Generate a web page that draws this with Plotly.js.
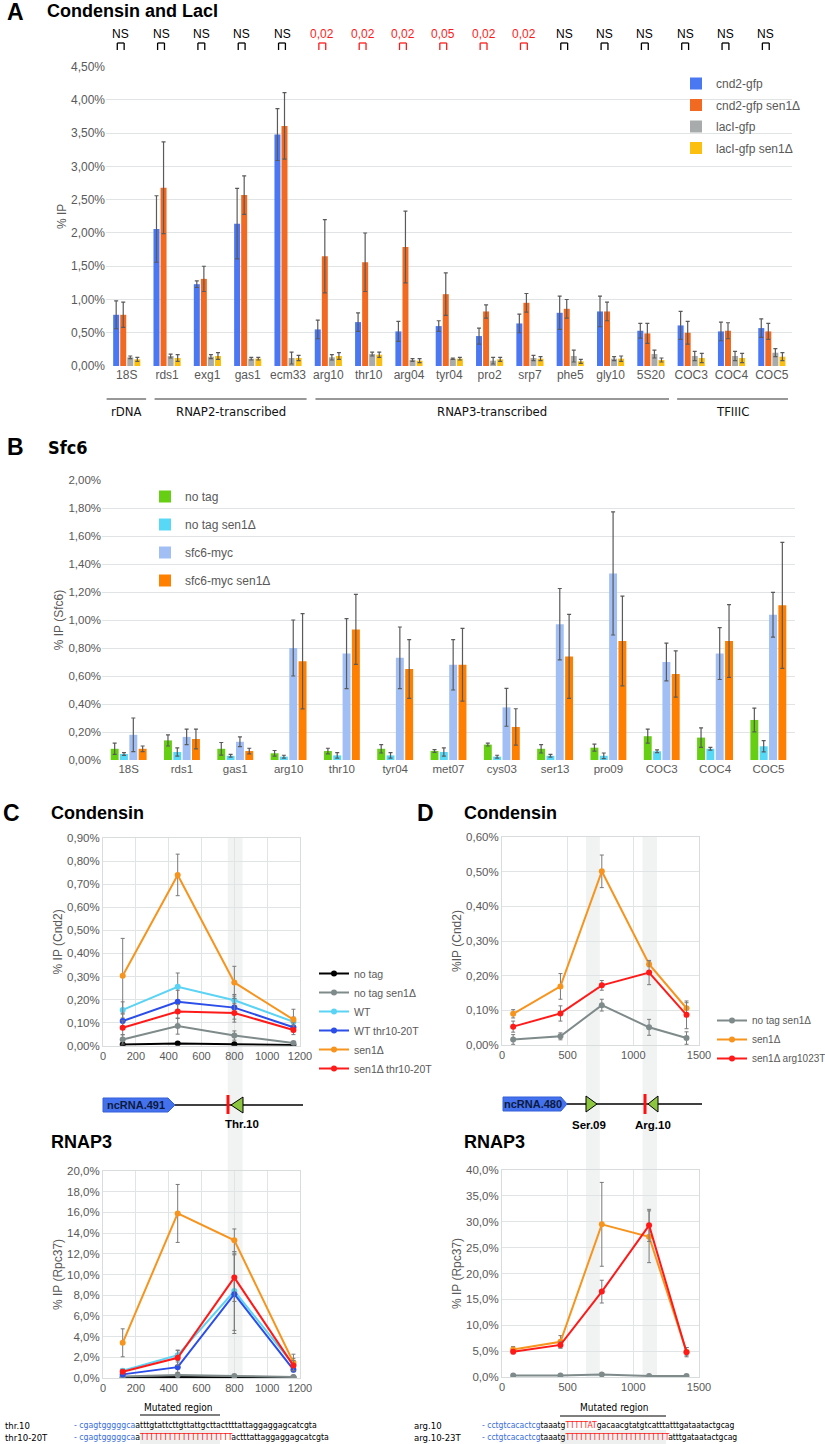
<!DOCTYPE html>
<html><head><meta charset="utf-8">
<script src="https://cdn.plot.ly/plotly-3.0.1.min.js"></script>
<style>html,body{margin:0;padding:0;background:#fff}#chart{width:825px;height:1444px}</style>
</head><body><div id="chart"></div>
<script>
// ---------- Panel A data ----------
const catsA = ['18S','rds1','exg1','gas1','ecm33','arg10','thr10','arg04','tyr04','pro2','srp7','phe5','gly10','5S20','COC3','COC4','COC5'];
const cnd2 = [0.77,2.06,1.23,2.14,3.48,0.55,0.66,0.52,0.60,0.45,0.64,0.80,0.82,0.53,0.61,0.52,0.57];
const cnd2Err = [0.21,0.50,0.05,0.53,0.39,0.14,0.14,0.15,0.08,0.12,0.14,0.25,0.23,0.11,0.21,0.14,0.14];
const cnd2Sen = [0.77,2.68,1.31,2.57,3.61,1.65,1.56,1.79,1.08,0.82,0.95,0.86,0.82,0.49,0.50,0.53,0.52];
const cnd2SenErr = [0.19,0.69,0.19,0.29,0.50,0.55,0.44,0.54,0.32,0.10,0.14,0.14,0.14,0.15,0.17,0.12,0.12];
const lacI = [0.13,0.15,0.14,0.11,0.12,0.13,0.18,0.09,0.11,0.08,0.12,0.15,0.11,0.18,0.15,0.15,0.20];
const lacIErr = [0.02,0.03,0.03,0.02,0.09,0.04,0.03,0.02,0.01,0.05,0.04,0.09,0.03,0.06,0.07,0.07,0.06];
const lacISen = [0.10,0.12,0.15,0.11,0.12,0.15,0.17,0.08,0.11,0.10,0.11,0.07,0.11,0.09,0.12,0.12,0.14];
const lacISenErr = [0.03,0.05,0.05,0.02,0.04,0.05,0.04,0.03,0.02,0.03,0.03,0.03,0.04,0.03,0.07,0.07,0.06];
const sigA = ['NS','NS','NS','NS','NS','0,02','0,02','0,02','0,05','0,02','0,02','NS','NS','NS','NS','NS','NS'];
const groupsA = ['rDNA','RNAP2-transcribed','RNAP3-transcribed','TFIIIC'];
const groupSpanA = [[-0.5,0.48],[0.69,4.46],[4.68,13.45],[13.65,16.4]];

// ---------- Panel B data ----------
const catsB = ['18S','rds1','gas1','arg10','thr10','tyr04','met07','cys03','ser13','pro09','COC3','COC4','COC5'];
const noTag = [0.08,0.14,0.08,0.048,0.064,0.08,0.064,0.11,0.08,0.088,0.17,0.16,0.286];
const noTagErr = [0.04,0.04,0.045,0.02,0.02,0.03,0.01,0.01,0.03,0.025,0.05,0.07,0.085];
const noTagSen = [0.043,0.057,0.03,0.024,0.033,0.033,0.057,0.024,0.03,0.03,0.062,0.08,0.098];
const noTagSenErr = [0.01,0.03,0.01,0.01,0.02,0.02,0.03,0.01,0.01,0.02,0.01,0.01,0.04];
const sfc6 = [0.18,0.165,0.13,0.80,0.76,0.73,0.68,0.376,0.97,1.333,0.70,0.76,1.038];
const sfc6Err = [0.12,0.055,0.035,0.20,0.25,0.22,0.18,0.135,0.255,0.44,0.135,0.185,0.16];
const sfc6Sen = [0.08,0.15,0.064,0.705,0.933,0.65,0.68,0.236,0.74,0.85,0.614,0.85,1.105];
const sfc6SenErr = [0.02,0.07,0.02,0.34,0.25,0.21,0.26,0.13,0.30,0.32,0.165,0.26,0.45];

// ---------- Panel C data (thr10 locus) ----------
const posC = [120,455,800,1160];
const seriesC = ['no tag','no tag sen1Δ','WT','WT thr10-20T','sen1Δ','sen1Δ thr10-20T'];
const cndC_noTag = [0.005,0.010,0.006,0.003];
const cndC_noTagErr = [0.002,0.003,0.002,0.002];
const cndC_noTagSen = [0.027,0.085,0.044,0.012];
const cndC_noTagSenErr = [0.02,0.035,0.02,0.006];
const cndC_WT = [0.155,0.255,0.197,0.104];
const cndC_WTErr = [0.035,0.06,0.025,0.02];
const cndC_WTmut = [0.107,0.19,0.165,0.08];
const cndC_WTmutErr = [0.03,0.05,0.05,0.02];
const cndC_sen = [0.303,0.74,0.274,0.113];
const cndC_senErr = [0.162,0.09,0.07,0.045];
const cndC_senMut = [0.078,0.148,0.142,0.068];
const cndC_senMutErr = [0.03,0.03,0.04,0.02];
const polC_noTag = [0.05,0.1,0.05,0.05];
const polC_noTagErr = [0.05,0.05,0.05,0.05];
const polC_noTagSen = [0.15,0.3,0.2,0.1];
const polC_noTagSenErr = [0.1,0.2,0.1,0.1];
const polC_WT = [0.7,2.2,8.4,1.3];
const polC_WTErr = [0.2,0.5,3.8,0.6];
const polC_WTmut = [0.35,1.05,8.1,0.8];
const polC_WTmutErr = [0.1,0.5,3.8,0.2];
const polC_sen = [3.4,15.9,13.3,1.5];
const polC_senErr = [1.35,2.8,1.1,0.8];
const polC_senMut = [0.6,1.95,9.7,1.2];
const polC_senMutErr = [0.2,0.7,2.3,0.5];

// ---------- Panel D data (arg10 locus) ----------
const posD = [85,445,760,1120,1405];
const seriesD = ['no tag sen1Δ','sen1Δ','sen1Δ arg1023T'];
const cndD_noTagSen = [0.016,0.025,0.115,0.051,0.02];
const cndD_noTagSenErr = [0.014,0.01,0.017,0.023,0.018];
const cndD_sen = [0.09,0.169,0.501,0.233,0.106];
const cndD_senErr = [0.012,0.037,0.047,0.007,0.016];
const cndD_senMut = [0.053,0.091,0.172,0.209,0.087];
const cndD_senMutErr = [0.016,0.022,0.014,0.035,0.04];
const polD_noTagSen = [0.3,0.3,0.5,0.2,0.2];
const polD_noTagSenErr = [0.1,0.1,0.1,0.1,0.1];
const polD_sen = [5.3,6.8,29.5,27.1,4.9];
const polD_senErr = [0.6,1.2,8.1,5.0,0.8];
const polD_senMut = [4.9,6.2,16.5,29.3,4.8];
const polD_senMutErr = [0.4,0.6,2.2,3.1,0.9];

// ---------- helpers / styles ----------
const W = 825, H = 1444;
const px = x => x / W;
const py = y => 1 - y / H;
const F = 'Liberation Sans, Arial, sans-serif';
const FN = 'Liberation Sans Narrow, DejaVu Sans Condensed, Liberation Sans, sans-serif';
const TICK = '#595959';
const GRID = '#e1e4e4';
const ERR = '#5a5a5a';

function barTrace(x, y, err, name, color, xa, ya, lg) {
  return {type:'bar', x:x, y:y, name:name, marker:{color:color},
    error_y:{type:'data', array:err, color:ERR, thickness:1.2, width:2},
    xaxis:xa, yaxis:ya, legend:lg, legendgroup:name+xa};
}
function lineTrace(x, y, err, name, color, xa, ya, lg, show) {
  return {type:'scatter', mode:'lines+markers', x:x, y:y, name:name,
    line:{color:color, width:2}, marker:{color:color, size:6},
    error_y:{type:'data', array:err, color:'#7a7a7a', thickness:1, width:2},
    xaxis:xa, yaxis:ya, legend:lg, legendgroup:name+lg, showlegend:show};
}

const colA = ['#4a77f2','#f26a21','#a8abab','#fbbf10'];
const colB = ['#66cf14','#58d8f7','#a1bff4','#ff8000'];
const colC = ['#000000','#7f8a8a','#5ad3f5','#2b4de8','#f7941d','#ff1a1a'];
const colD = ['#7f8a8a','#f7941d','#ff1a1a'];

const data = [
  barTrace(catsA, cnd2, cnd2Err, 'cnd2-gfp', colA[0], 'x', 'y', 'legend'),
  barTrace(catsA, cnd2Sen, cnd2SenErr, 'cnd2-gfp sen1Δ', colA[1], 'x', 'y', 'legend'),
  barTrace(catsA, lacI, lacIErr, 'lacI-gfp', colA[2], 'x', 'y', 'legend'),
  barTrace(catsA, lacISen, lacISenErr, 'lacI-gfp sen1Δ', colA[3], 'x', 'y', 'legend'),
  barTrace(catsB, noTag, noTagErr, 'no tag', colB[0], 'x2', 'y2', 'legend2'),
  barTrace(catsB, noTagSen, noTagSenErr, 'no tag sen1Δ', colB[1], 'x2', 'y2', 'legend2'),
  barTrace(catsB, sfc6, sfc6Err, 'sfc6-myc', colB[2], 'x2', 'y2', 'legend2'),
  barTrace(catsB, sfc6Sen, sfc6SenErr, 'sfc6-myc sen1Δ', colB[3], 'x2', 'y2', 'legend2')
];
const cndC = [[cndC_noTag,cndC_noTagErr],[cndC_noTagSen,cndC_noTagSenErr],[cndC_WT,cndC_WTErr],[cndC_WTmut,cndC_WTmutErr],[cndC_sen,cndC_senErr],[cndC_senMut,cndC_senMutErr]];
const polC = [[polC_noTag,polC_noTagErr],[polC_noTagSen,polC_noTagSenErr],[polC_WT,polC_WTErr],[polC_WTmut,polC_WTmutErr],[polC_sen,polC_senErr],[polC_senMut,polC_senMutErr]];
seriesC.forEach((s,i)=>{ data.push(lineTrace(posC, cndC[i][0], cndC[i][1], s, colC[i], 'x3', 'y3', 'legend3', true)); });
seriesC.forEach((s,i)=>{ data.push(lineTrace(posC, polC[i][0], polC[i][1], s, colC[i], 'x4', 'y4', 'legend3', false)); });
const cndD = [[cndD_noTagSen,cndD_noTagSenErr],[cndD_sen,cndD_senErr],[cndD_senMut,cndD_senMutErr]];
const polD = [[polD_noTagSen,polD_noTagSenErr],[polD_sen,polD_senErr],[polD_senMut,polD_senMutErr]];
seriesD.forEach((s,i)=>{ data.push(lineTrace(posD, cndD[i][0], cndD[i][1], s, colD[i], 'x5', 'y5', 'legend4', true)); });
seriesD.forEach((s,i)=>{ data.push(lineTrace(posD, polD[i][0], polD[i][1], s, colD[i], 'x6', 'y6', 'legend4', false)); });

// ---------- axes ----------
const tf = (s) => ({size:s, color:TICK, family:F});
function yAx(dom, range, dtick, fmt, title, extra) {
  return Object.assign({domain:dom, range:range, dtick:dtick, tickformat:fmt, ticksuffix:'%',
    showgrid:true, gridcolor:GRID, zeroline:false, showline:false, ticks:'', tickfont:tf(11.5),
    title:{text:title, font:{size:12, color:TICK, family:F}}, fixedrange:true}, extra||{});
}
function xNum(dom, anchor, range, dtick) {
  return {domain:dom, anchor:anchor, range:range, dtick:dtick, showgrid:true, gridcolor:GRID, zeroline:false,
    showline:true, mirror:true, linecolor:'#d9dcdc', ticks:'', tickfont:tf(11)};
}

const layout = {
  width:W, height:H, autosize:false, margin:{l:0,r:0,t:0,b:0,autoexpand:false},
  paper_bgcolor:'#fff', plot_bgcolor:'rgba(0,0,0,0)',
  separators:',.', barmode:'group', bargap:0.3, bargroupgap:0.15, font:{family:F},
  xaxis:{domain:[px(106),px(792)], anchor:'y', type:'category', showgrid:false, zeroline:false, showline:false, ticks:'', tickfont:tf(12)},
  yaxis:yAx([py(366),py(66.7)], [0,4.5], 0.5, '.2f', '% IP', {anchor:'x', tickfont:tf(12)}),
  xaxis2:{domain:[px(102),px(795)], anchor:'y2', type:'category', showgrid:false, zeroline:false, showline:false, ticks:'', tickfont:tf(11.5)},
  yaxis2:yAx([py(760),py(480)], [0,2], 0.2, '.2f', '% IP (Sfc6)', {anchor:'x2'}),
  xaxis3:xNum([px(103),px(300)], 'y3', [0,1200], 200),
  yaxis3:yAx([py(1045.7),py(838)], [0,0.9], 0.1, '.2f', '% IP (Cnd2)', {anchor:'x3', showline:true, linecolor:'#d9dcdc', mirror:true}),
  xaxis4:xNum([px(103),px(300)], 'y4', [0,1200], 200),
  yaxis4:yAx([py(1378),py(1171)], [0,20], 2, '.1f', '% IP (Rpc37)', {anchor:'x4', showline:true, linecolor:'#d9dcdc', mirror:true}),
  xaxis5:xNum([px(502),px(699)], 'y5', [0,1500], 500),
  yaxis5:yAx([py(1045),py(837)], [0,0.6], 0.1, '.2f', '%IP (Cnd2)', {anchor:'x5', showline:true, linecolor:'#d9dcdc', mirror:true}),
  xaxis6:xNum([px(502),px(699)], 'y6', [0,1500], 500),
  yaxis6:yAx([py(1377),py(1170)], [0,40], 5, '.1f', '% IP (Rpc37)', {anchor:'x6', showline:true, linecolor:'#d9dcdc', mirror:true}),
  legend:{x:px(676), y:py(69), xanchor:'left', yanchor:'top', bgcolor:'rgba(0,0,0,0)', traceorder:'grouped', tracegroupgap:2.5, font:{size:12, color:TICK, family:F}},
  legend2:{x:px(145), y:py(482), xanchor:'left', yanchor:'top', bgcolor:'rgba(0,0,0,0)', traceorder:'grouped', tracegroupgap:9, font:{size:12, color:TICK, family:F}},
  legend3:{x:px(314), y:py(959), xanchor:'left', yanchor:'top', bgcolor:'rgba(0,0,0,0)', traceorder:'grouped', tracegroupgap:0, font:{size:10.5, color:TICK, family:F}},
  legend4:{x:px(712), y:py(1006), xanchor:'left', yanchor:'top', bgcolor:'rgba(0,0,0,0)', traceorder:'grouped', tracegroupgap:0, font:{size:10, color:TICK, family:F}},
  annotations:[], shapes:[]
};

const ann = layout.annotations, shp = layout.shapes;
function txt(x, y, text, size, opts) {
  ann.push(Object.assign({xref:'paper', yref:'paper', x:px(x), y:py(y), text:text, showarrow:false,
    xanchor:'left', yanchor:'middle', font:{size:size, color:'#000', family:F}}, opts||{}));
}
// Panel titles
txt(5, 12, '<b>A</b>', 23);
txt(45, 11, '<b>Condensin and LacI</b>', 18);
txt(5, 447, '<b>B</b>', 23);
txt(46, 447, '<b>Sfc6</b>', 18, {font:{size:18, color:'#000', family:FN}});
txt(1, 813, '<b>C</b>', 23);
txt(49, 813, '<b>Condensin</b>', 18);
txt(415, 813, '<b>D</b>', 23);
txt(462, 813, '<b>Condensin</b>', 18);
txt(49, 1142, '<b>RNAP3</b>', 18);
txt(462, 1142, '<b>RNAP3</b>', 18);

// significance labels and brackets (over the cnd2 pair of each category)
sigA.forEach((s,i)=>{
  const c = s === 'NS' ? '#000000' : '#ff1a1a';
  ann.push({xref:'x', yref:'paper', x:i, y:py(34.5), xshift:-6, text:s, showarrow:false, yanchor:'middle',
    font:{size:12, color:c, family:F}});
  const xl = i - 0.235, xr = i - 0.065, yt = py(43), yb = py(50);
  [[xl,yb,xl,yt],[xl,yt,xr,yt],[xr,yt,xr,yb]].forEach(p=>{
    shp.push({type:'line', xref:'x', yref:'paper', x0:p[0], y0:p[1], x1:p[2], y1:p[3], line:{color:c, width:1.3}});
  });
});
// group lines and labels under panel A
groupsA.forEach((g,i)=>{
  shp.push({type:'line', xref:'x', yref:'paper', x0:groupSpanA[i][0], x1:groupSpanA[i][1], y0:py(399), y1:py(399), line:{color:'#333', width:1.2}});
  ann.push({xref:'x', yref:'paper', x:(groupSpanA[i][0]+groupSpanA[i][1])/2, y:py(411), text:g, showarrow:false,
    yanchor:'middle', font:{size:13, color:'#111', family:FN}});
});

// shaded tRNA bands through panels C and D
const band = 'rgba(200,206,206,0.25)';
shp.push({type:'rect', xref:'x3', yref:'paper', x0:760, x1:850, y0:py(1378), y1:py(838), fillcolor:band, line:{width:0}, layer:'below'});
shp.push({type:'rect', xref:'x5', yref:'paper', x0:640, x1:745, y0:py(1377), y1:py(837), fillcolor:band, line:{width:0}, layer:'below'});
shp.push({type:'rect', xref:'x5', yref:'paper', x0:1070, x1:1180, y0:py(1377), y1:py(837), fillcolor:band, line:{width:0}, layer:'below'});

// gene diagrams
function P(pts){ return 'M' + pts.map(p=>px(p[0])+','+py(p[1])).join(' L') + ' Z'; }
function pathShape(pts, fill, lineColor, lw){ shp.push({type:'path', xref:'paper', yref:'paper', path:P(pts), fillcolor:fill, line:{color:lineColor, width:lw}}); }
function seg(x0,y0,x1,y1,c,w){ shp.push({type:'line', xref:'paper', yref:'paper', x0:px(x0), y0:py(y0), x1:px(x1), y1:py(y1), line:{color:c, width:w}}); }
// C diagram
seg(170,1105,303,1105,'#000',1.5);
pathShape([[103,1098],[168,1098],[175,1105],[168,1112],[103,1112]], '#4472ee', '#3560d8', 1);
seg(228,1095,228,1114,'#ff1010',3);
pathShape([[231,1105],[243,1097],[243,1113]], '#8cc63e', '#000', 1);
txt(136, 1105, '<b>ncRNA.491</b>', 11, {xanchor:'center', font:{size:11, color:'#0d1a40', family:F}});
txt(242, 1124, '<b>Thr.10</b>', 11.5, {xanchor:'center'});
// D diagram
seg(562,1104,702,1104,'#000',1.5);
pathShape([[503,1097],[561,1097],[567,1104],[561,1111],[503,1111]], '#4472ee', '#3560d8', 1);
pathShape([[586,1096],[586,1112],[597,1104]], '#8cc63e', '#000', 1);
seg(645,1094,645,1114,'#ff1010',3);
pathShape([[648,1104],[658,1096],[658,1112]], '#8cc63e', '#000', 1);
txt(533, 1104, '<b>ncRNA.480</b>', 11, {xanchor:'center', font:{size:11, color:'#0d1a40', family:F}});
txt(589, 1125, '<b>Ser.09</b>', 11.5, {xanchor:'center'});
txt(653, 1125, '<b>Arg.10</b>', 11.5, {xanchor:'center'});

// sequences
const blue = s => '<span style="color:#3b6fe0">'+s+'</span>';
const red = s => '<span style="color:#ff1a1a">'+s+'</span>';
shp.push({type:'rect', xref:'paper', yref:'paper', x0:px(140), x1:px(220), y0:py(1444), y1:py(1430), fillcolor:'#eef0f0', line:{width:0}});
shp.push({type:'rect', xref:'paper', yref:'paper', x0:px(560), x1:px(666), y0:py(1444), y1:py(1430), fillcolor:'#eef0f0', line:{width:0}});
seg(140,1415,220,1415,'#000',1.2);
seg(560,1416,666,1416,'#000',1.2);
const lfont = {size:9.5, color:'#000', family:FN};
const sfont = {size:8.7, color:'#000', family:FN};
txt(178, 1407, 'Mutated region', 10, {xanchor:'center', font:{size:10, color:'#000', family:FN}});
txt(614, 1407, 'Mutated region', 10, {xanchor:'center', font:{size:10, color:'#000', family:FN}});
txt(3, 1425, 'thr.10', 9.5, {font:lfont});
txt(3, 1437, 'thr10-20T', 9.5, {font:lfont});
txt(72, 1425, blue('- cgagtgggggca')+'atttgtattcttgttattgcttacttttattaggaggagcatcgta', 8.7, {font:sfont});
txt(72, 1437, blue('- cgagtgggggca')+'a'+red('TTTTTTTTTTTTTTTTTTTT')+'actttattaggaggagcatcgta', 8.7, {font:sfont});
txt(412, 1425, 'arg.10', 9.5, {font:lfont});
txt(412, 1437, 'arg.10-23T', 9.5, {font:lfont});
txt(480, 1425, blue('- cctgtcacactcg')+'taaatg'+red('TTTTTAT')+'gacaacgtatgtcatttatttgataatactgcag', 8.5, {font:{size:8.5, color:'#000', family:FN}});
txt(480, 1437, blue('- cctgtcacactcg')+'taaatg'+red('TTTTTTTTTTTTTTTTTTTTTTT')+'atttgataatactgcag', 8.5, {font:{size:8.5, color:'#000', family:FN}});

Plotly.newPlot('chart', data, layout, {staticPlot:true, displayModeBar:false});
</script></body></html>
